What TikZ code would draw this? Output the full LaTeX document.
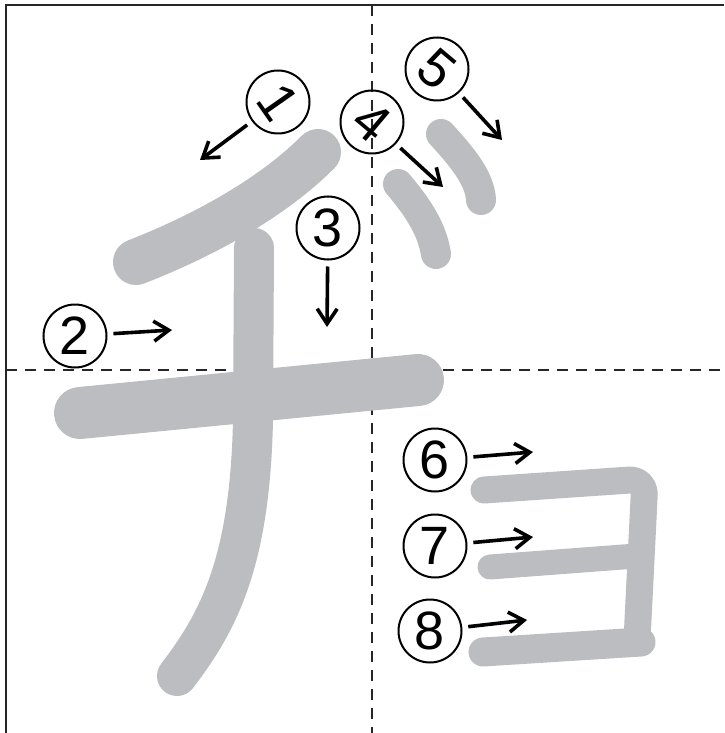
\documentclass[tikz,border=0pt]{standalone}
\usepackage{fontspec}
\setmainfont{Liberation Sans}
\usetikzlibrary{arrows.meta}
\definecolor{strokegray}{HTML}{BCBDC0}
\begin{document}
\begin{tikzpicture}[x=0.5pt, y=-0.5pt,
		>={Straight Barb[length=7.5pt,width=10pt]},
		frame/.style={line width=1pt, black!85},
		guide/.style={line width=1pt, black!85, dash pattern=on 5.5pt off 4pt},
		brush/.style={strokegray, line cap=round, line join=round},
		num/.style={circle, draw, line width=1pt, minimum size=31.5pt, inner sep=0pt,
			font=\fontsize{27}{30}\selectfont},
		order/.style={->, line width=1.8pt, shorten <=3pt}]
	\useasboundingbox (0,0) rectangle (724,733);
	% Các điểm mũi tên
	\path
	(200,160) coordinate (t1)
	(172,330) coordinate (t2)
	(327,327) coordinate (t3)
	(443,187) coordinate (t4)
	(502,140) coordinate (t5)
	(533,452) coordinate (t6)
	(533,537) coordinate (t7)
	(527,620) coordinate (t8);
	% Khung và đường chia ô
	\draw[frame] (724,5) -- (6,5) -- (6,733);
	\draw[guide] (372,5) -- (372,733);
	\draw[guide] (6,370) -- (724,370);
	% Các nét chữ
	\draw[brush, line width=23pt] (318,152) .. controls (270,200) and (200,237) .. (136,262);
	\draw[brush, line width=26pt] (80,413) -- (418,380);
	\draw[brush, line width=20pt] (254,248) -- (253,420) .. controls (250,560) and (220,620) .. (177,676);
	\draw[brush, line width=15pt] (398,184) .. controls (420,210) and (432,230) .. (436,254);
	\draw[brush, line width=15pt] (441,134) .. controls (465,160) and (480,180) .. (481,200);
	\draw[brush, line width=13.5pt, rounded corners=8pt] (484,490) -- (645,479) -- (637,640);
	\draw[brush, line width=12.5pt] (490,567) -- (636,556);
	\draw[brush, line width=14.5pt] (483,652) -- (641,642);
	% Số thứ tự nét
	\foreach \i/\x/\y/\r in {1/278/102/-55, 2/75/336/0, 3/328/228/0, 4/372/122/-40,
		5/437/69/-40, 6/435/460/0, 7/435/546/0, 8/430/631/0}
	\node[num, rotate=\r] (n\i) at (\x,\y) {\i};
	\foreach \i in {1,...,8}
	\draw[order] (n\i) -- (t\i);
\end{tikzpicture}
\end{document}
